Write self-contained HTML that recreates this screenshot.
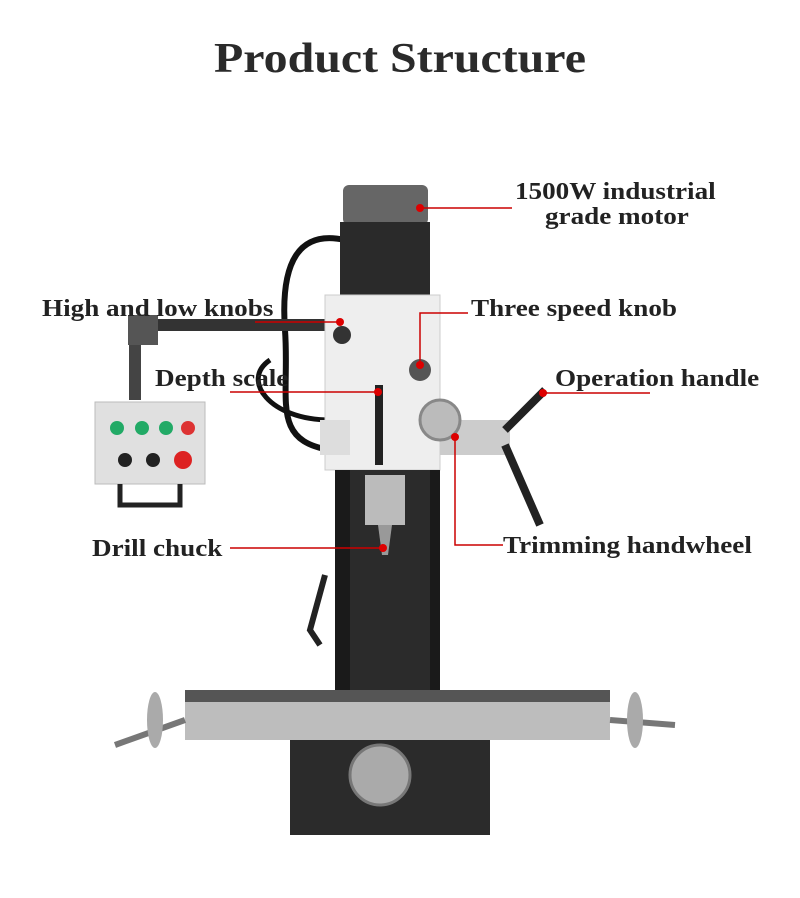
<!DOCTYPE html>
<html><head><meta charset="utf-8"><style>
body{margin:0;width:800px;height:898px;background:#fff;overflow:hidden;font-family:"Liberation Serif",serif;}
.t{position:absolute;color:#222;font-size:24px;white-space:nowrap;line-height:1;font-weight:bold;transform:scaleX(1.13);transform-origin:left top}
</style></head><body>
<div class="t" style="left:0;width:800px;text-align:center;top:38px;font-size:42px;color:#2a2a2a;transform-origin:center top;transform:scaleX(1.14)">Product Structure</div>
<svg width="800" height="898" style="position:absolute;left:0;top:0">
<path d="M345 240 C300 230 280 260 285 330 C290 400 270 440 330 450" fill="none" stroke="#111" stroke-width="6"/>
<path d="M330 420 C270 420 240 380 270 360" fill="none" stroke="#111" stroke-width="5"/>
<path d="M135 325 L135 400" stroke="#444" stroke-width="12"/>
<path d="M135 325 L330 325" stroke="#333" stroke-width="12"/>
<rect x="128" y="315" width="30" height="30" fill="#555"/>
<rect x="95" y="402" width="110" height="82" fill="#e0e0e0" stroke="#bbb"/>
<circle cx="117" cy="428" r="7" fill="#2a6"/><circle cx="142" cy="428" r="7" fill="#2a6"/><circle cx="166" cy="428" r="7" fill="#2a6"/><circle cx="188" cy="428" r="7" fill="#d33"/>
<circle cx="125" cy="460" r="7" fill="#222"/><circle cx="153" cy="460" r="7" fill="#222"/><circle cx="183" cy="460" r="9" fill="#d22"/>
<path d="M120 484 L120 505 L180 505 L180 484" fill="none" stroke="#222" stroke-width="5"/>
<rect x="343" y="185" width="85" height="40" rx="6" fill="#666"/>
<rect x="340" y="222" width="90" height="78" fill="#2a2a2a"/>
<rect x="325" y="295" width="115" height="175" fill="#eeeeee" stroke="#ccc"/>
<rect x="320" y="420" width="30" height="35" fill="#ddd"/>
<circle cx="342" cy="335" r="9" fill="#333"/>
<circle cx="420" cy="370" r="11" fill="#555"/>
<rect x="375" y="385" width="8" height="80" fill="#222"/>
<rect x="335" y="470" width="105" height="220" fill="#1a1a1a"/>
<rect x="350" y="470" width="80" height="220" fill="#2b2b2b"/>
<rect x="365" y="475" width="40" height="50" fill="#bbb"/>
<path d="M378 525 L392 525 L388 555 L382 555Z" fill="#999"/>
<path d="M325 575 L310 630 L320 645" fill="none" stroke="#222" stroke-width="6"/>
<rect x="440" y="420" width="70" height="35" fill="#ccc"/>
<circle cx="440" cy="420" r="20" fill="#bbb" stroke="#888" stroke-width="3"/>
<path d="M505 430 L545 390 M505 445 L540 525" stroke="#222" stroke-width="8"/>
<rect x="185" y="690" width="425" height="12" fill="#555"/>
<rect x="185" y="702" width="425" height="38" fill="#bdbdbd"/>
<path d="M115 745 L185 720 M610 720 L675 725" stroke="#777" stroke-width="6"/>
<ellipse cx="155" cy="720" rx="8" ry="28" fill="#aaa"/><ellipse cx="635" cy="720" rx="8" ry="28" fill="#aaa"/>
<rect x="290" y="740" width="200" height="95" fill="#2b2b2b"/>
<circle cx="380" cy="775" r="30" fill="#aaa" stroke="#777" stroke-width="3"/>
<g stroke="#c00" stroke-width="1.5" fill="none">
<path d="M420 208 L512 208"/><path d="M255 322 L340 322"/>
<path d="M420 365 L420 313 L468 313"/><path d="M230 392 L378 392"/>
<path d="M543 393 L650 393"/><path d="M230 548 L383 548"/>
<path d="M455 437 L455 545 L503 545"/>
</g>
<g fill="#d00"><circle cx="420" cy="208" r="4"/><circle cx="340" cy="322" r="4"/><circle cx="420" cy="365" r="4"/><circle cx="378" cy="392" r="4"/><circle cx="543" cy="393" r="4"/><circle cx="383" cy="548" r="4"/><circle cx="455" cy="437" r="4"/></g>
</svg>
<div class="t" style="left:515px;top:180px">1500W industrial</div>
<div class="t" style="left:545px;top:205px">grade motor</div>
<div class="t" style="left:42px;top:297px">High and low knobs</div>
<div class="t" style="left:471px;top:297px">Three speed knob</div>
<div class="t" style="left:155px;top:367px">Depth scale</div>
<div class="t" style="left:555px;top:367px">Operation handle</div>
<div class="t" style="left:92px;top:537px">Drill chuck</div>
<div class="t" style="left:503px;top:534px">Trimming handwheel</div>
</body></html>
